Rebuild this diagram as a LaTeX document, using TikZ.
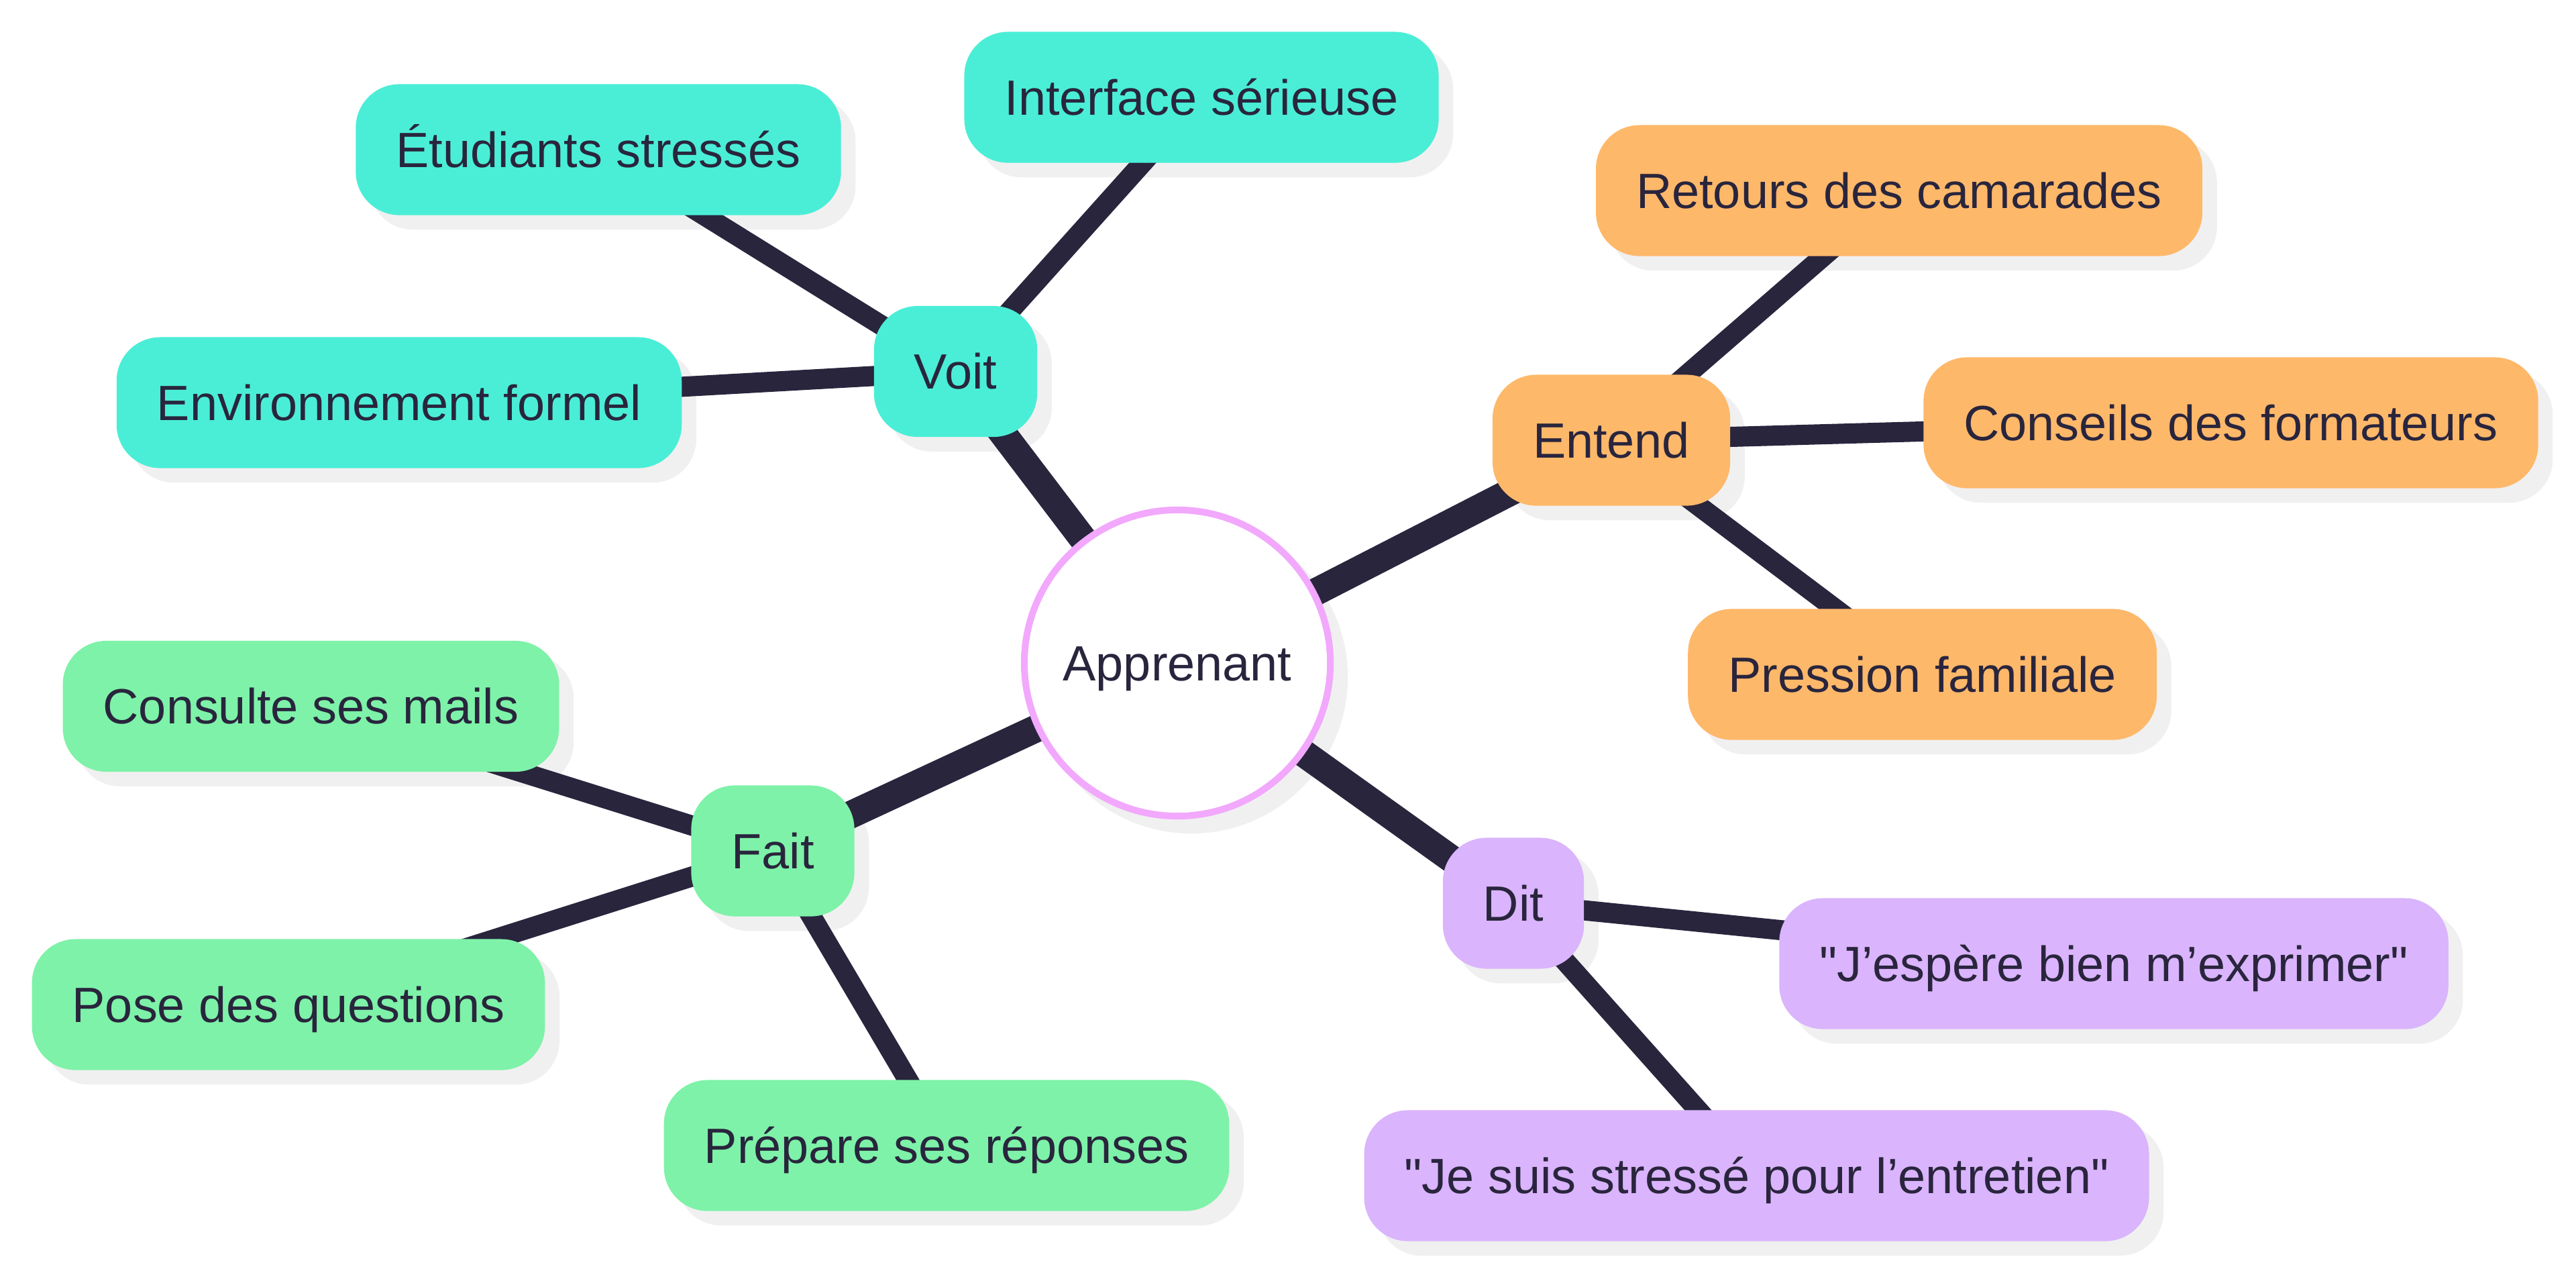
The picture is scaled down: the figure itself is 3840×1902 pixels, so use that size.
\documentclass[tikz,border=0pt]{standalone}
\usepackage{fontspec}
\setmainfont{Liberation Sans}[Ligatures=TeXOff]
\definecolor{ink}{HTML}{29253D}
\definecolor{voitcol}{HTML}{4AEED6}
\definecolor{entendcol}{HTML}{FEB86A}
\definecolor{ditcol}{HTML}{DAB4FC}
\definecolor{faitcol}{HTML}{7EF2A8}
\definecolor{ringcol}{HTML}{F2A8FC}
\definecolor{shadowcol}{HTML}{F0F0F0}
\pgfdeclarelayer{shadow}
\pgfdeclarelayer{links}
\pgfsetlayers{shadow,links,main}

\begin{document}
\begin{tikzpicture}[x=0.01cm,y=-0.01cm,
  box/.style={rounded corners=0.65cm,minimum height=1.95cm,inner xsep=0.6cm,
    inner ysep=0pt,text height=15pt,text depth=0pt,text=ink,
    font=\fontsize{21}{25}\selectfont},
  voitbox/.style={box,fill=voitcol},
  entendbox/.style={box,fill=entendcol},
  ditbox/.style={box,fill=ditcol},
  faitbox/.style={box,fill=faitcol},
  trunk/.style={draw=ink,line width=0.41cm},
  twig/.style={draw=ink,line width=0.30cm}]
  \useasboundingbox (0,0) rectangle (3840,1902);

  \node[circle,draw=ringcol,line width=0.1cm,fill=white,minimum size=4.56cm,
    inner sep=0pt,text height=15pt,text depth=0pt,text=ink,
    font=\fontsize{21}{25}\selectfont] (app) at (1755,988){Apprenant};

  \node[voitbox] (voit) at (1424.5,553.5){Voit};
  \node[voitbox] (etud) at (892,223){Étudiants stressés};
  \node[voitbox] (env) at (595,600){Environnement formel};
  \node[voitbox] (interf) at (1791,145){Interface sérieuse};

  \node[entendbox] (entend) at (2402,656){Entend};
  \node[entendbox] (retours) at (2831,284){Retours des camarades};
  \node[entendbox] (conseils) at (3325.5,630){Conseils des formateurs};
  \node[entendbox] (pression) at (2865.6,1005){Pression familiale};

  \node[ditbox] (dit) at (2256,1346){Dit};
  \node[ditbox] (espere) at (3151,1436){"J’espère bien m’exprimer"};
  \node[ditbox] (stresse) at (2618.5,1752){"Je suis stressé pour l’entretien"};

  \node[faitbox] (fait) at (1152,1268){Fait};
  \node[faitbox] (consulte) at (463.5,1052.5){Consulte ses mails};
  \node[faitbox] (pose) at (430,1497){Pose des questions};
  \node[faitbox] (prepare) at (1411,1707){Prépare ses réponses};

  \begin{pgfonlayer}{links}
    \foreach \n in {voit,entend,dit,fait}
      \path[trunk] (app.center) -- (\n.center);
    \foreach \a/\b in {voit/etud,voit/env,voit/interf,entend/retours,entend/conseils,
      entend/pression,dit/espere,dit/stresse,fait/consulte,fait/pose,fait/prepare}
      \path[twig] (\a.center) -- (\b.center);
  \end{pgfonlayer}

  \begin{pgfonlayer}{shadow}
    \fill[shadowcol] ([shift={(21,21)}]app.center) circle (2.33cm);
    \foreach \n in {voit,etud,env,interf,entend,retours,conseils,pression,
      dit,espere,stresse,fait,consulte,pose,prepare}
      \fill[shadowcol,rounded corners=0.65cm] ([shift={(21,21)}]\n.south west)
        rectangle ([shift={(21,21)}]\n.north east);
  \end{pgfonlayer}
\end{tikzpicture}
\end{document}
